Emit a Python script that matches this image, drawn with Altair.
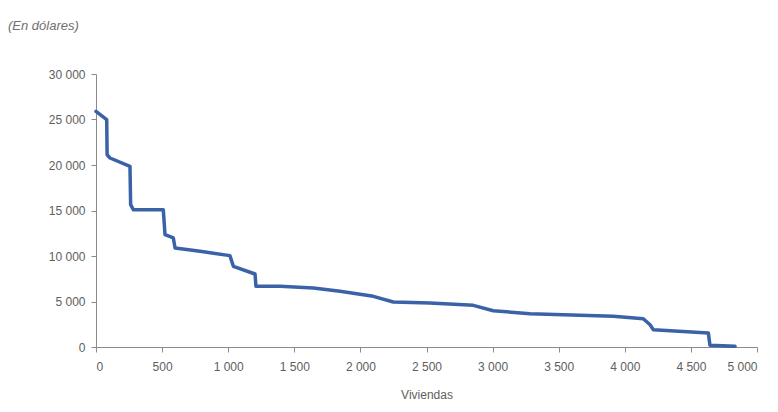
import altair as alt
import pandas as pd

viviendas = [0, 81, 84, 106, 257, 262, 282, 509, 522, 585, 598, 787, 1013, 1039, 1203, 1210,
             1392, 1644, 1846, 2098, 2249, 2526, 2854, 3005, 3283, 3535, 3913, 4140, 4191,
             4216, 4632, 4644, 4834]
dolares = [25900, 24980, 21130, 20770, 19860, 15640, 15090, 15090, 12340, 11980, 10880, 10510,
           10040, 8870, 8020, 6670, 6670, 6480, 6120, 5570, 4945, 4835, 4580, 3990, 3660, 3550,
           3370, 3110, 2450, 1900, 1540, 190, 80]

x_ticks = list(range(0, 5001, 500))
y_ticks = list(range(0, 30001, 5000))

df = pd.DataFrame({"Viviendas": viviendas, "Dolares": dolares})

label_expr = "replace(format(datum.value, ','), ',', ' ')"

chart = alt.Chart(df).mark_line(
    color="#3a62a6", strokeWidth=3.5, strokeJoin="round", strokeCap="round"
).encode(
    x=alt.X("Viviendas:Q",
            scale=alt.Scale(domain=[0, 5000], nice=False),
            axis=alt.Axis(values=x_ticks, labelExpr=label_expr, title="Viviendas",
                          grid=False, titlePadding=17, labelPadding=9)),
    y=alt.Y("Dolares:Q",
            scale=alt.Scale(domain=[0, 30000], nice=False),
            axis=alt.Axis(values=y_ticks, labelExpr=label_expr, title=None, grid=False,
                          labelPadding=6)),
).properties(
    width=661,
    height=273,
    autosize=alt.AutoSizeParams(type="none"),
    padding={"left": 88, "top": 66, "right": 12, "bottom": 57},
    title=alt.TitleParams("(En dólares)", anchor="start", frame="group", dx=-88, offset=35,
                          fontStyle="italic", fontWeight="normal", fontSize=13,
                          color="#707070", font="Liberation Sans"),
).configure_view(
    stroke=None
).configure_axis(
    domainColor="#8a8a8a", tickColor="#8a8a8a", tickSize=5,
    labelFont="Liberation Sans", labelFontSize=12, labelColor="#606060",
    titleFont="Liberation Sans", titleFontSize=12, titleColor="#606060",
    titleFontWeight="normal",
)

chart.save("out.html", embed_options={"renderer": "svg", "actions": False})
